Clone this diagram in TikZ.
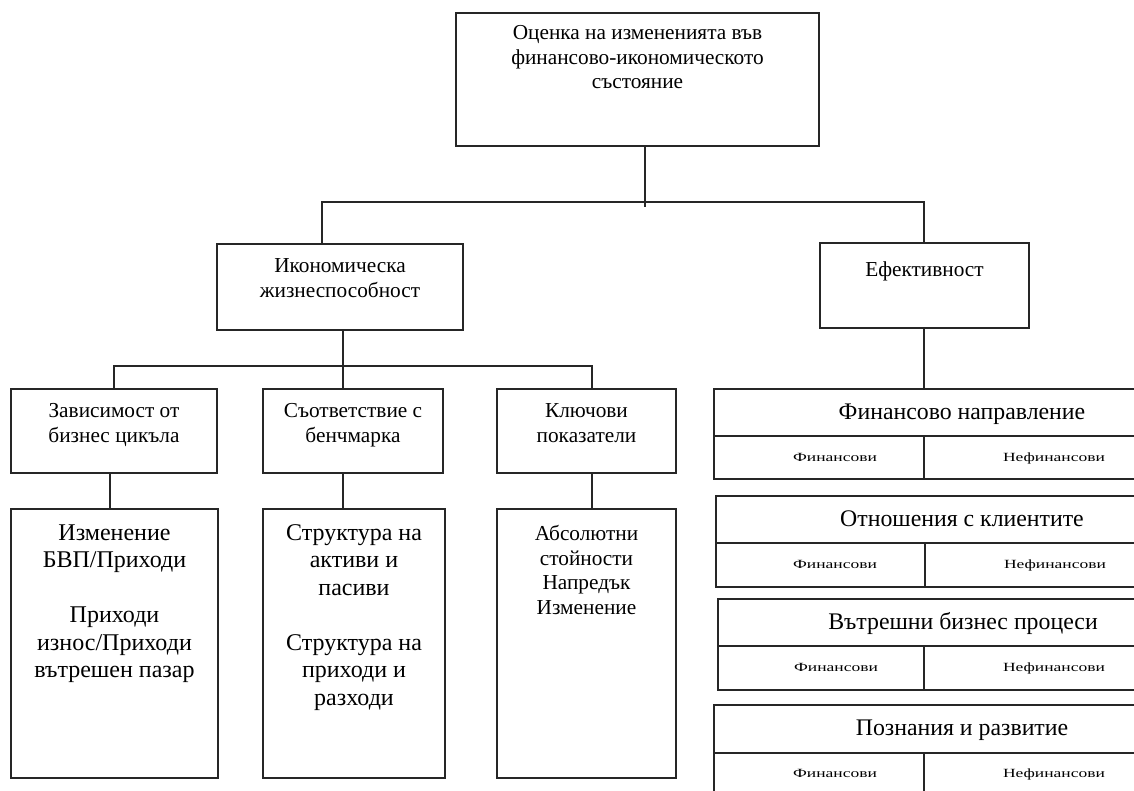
\documentclass[tikz,border=0pt]{standalone}
\usepackage{fontspec}
\setmainfont{Liberation Serif}
\newfontfamily\subfont[FakeStretch=1.4]{Liberation Serif}
\begin{document}
\begin{tikzpicture}[x=1pt,y=-1pt,
  box/.style={draw=black!85, line width=1.3pt, rectangle, inner sep=0pt, outer sep=0pt, anchor=north west},
  conn/.style={draw=black!85, line width=1.3pt},
  txtA/.style={inner sep=0pt, anchor=north, align=center, font=\fontsize{21.3}{24.5}\selectfont},
  txtB/.style={inner sep=0pt, anchor=north, align=center, font=\fontsize{24}{27.5}\selectfont},
  ttl/.style={inner sep=0pt, anchor=base, font=\fontsize{23.8}{27}\selectfont},
  sub/.style={inner sep=0pt, anchor=base, font=\subfont\fontsize{12.5}{14}\selectfont},
]
\useasboundingbox (0,0) rectangle (1134,790);
\clip (0,0) rectangle (1134,790);

% top
\node[box, minimum width=363pt, minimum height=133pt] (top) at (456,13) {};
\node[txtA] (toptxt) at (637.5,25.5) {Оценка на измененията във\\финансово-икономическото\\състояние};

% level 2
\node[box, minimum width=246pt, minimum height=86pt] (econ) at (217,244) {};
\node[txtA] (econtxt) at (340,258.5) {Икономическа\\жизнеспособност};
\node[box, minimum width=209pt, minimum height=85pt] (eff) at (820,243) {};
\node[txtA, anchor=base] (efftxt) at (924.5,276) {Ефективност};

% level 3
\node[box, minimum width=206pt, minimum height=84pt] (zav) at (11,389) {};
\node[txtA] (zavtxt) at (114,403.5) {Зависимост от\\бизнес цикъла};
\node[box, minimum width=180pt, minimum height=84pt] (sao) at (263,389) {};
\node[txtA] (saotxt) at (353,403.5) {Съответствие с\\бенчмарка};
\node[box, minimum width=179pt, minimum height=84pt] (klu) at (497,389) {};
\node[txtA] (klutxt) at (586.5,403.5) {Ключови\\показатели};

% level 4
\node[box, minimum width=207pt, minimum height=269pt] (sub1) at (11,509) {};
\node[txtB] (sub1txt) at (114.5,524.5) {Изменение\\БВП/Приходи\\[27.5pt]Приходи\\износ/Приходи\\вътрешен пазар};
\node[box, minimum width=182pt, minimum height=269pt] (sub2) at (263,509) {};
\node[txtB] (sub2txt) at (354,524) {Структура на\\активи и\\пасиви\\[27.5pt]Структура на\\приходи и\\разходи};
\node[box, minimum width=179pt, minimum height=269pt] (sub3) at (497,509) {};
\node[txtA] (sub3txt) at (586.5,525.5) {Абсолютни\\стойности\\Напредък\\Изменение};

% right panel boxes
\node[box, minimum width=496pt, minimum height=90pt] (b1) at (714,389) {};
\node[box, minimum width=496pt, minimum height=91pt] (b2) at (716,496) {};
\node[box, minimum width=496pt, minimum height=91pt] (b3) at (718,599) {};
\node[box, minimum width=496pt, minimum height=120pt] (b4) at (714,705) {};

\foreach \b/\d in {b1/47, b2/47, b3/47, b4/48}{
  \draw[conn] ([yshift=-\d pt]\b.north west) -- ([yshift=-\d pt]\b.north east);
}
\coordinate (v1) at (924,436);
\coordinate (v2) at (925,543);
\coordinate (v3) at (924,646);
\coordinate (v4) at (924,753);
\draw[conn] (v1) -- (b1.south -| v1);
\draw[conn, line width=2pt] (v2) -- (b2.south -| v2);
\draw[conn] (v3) -- (b3.south -| v3);
\draw[conn] (v4) -- (b4.south -| v4);

\node[ttl] (b1t) at (962,419) {Финансово направление};
\node[sub] (b1f) at (835,461) {Финансови};
\node[sub] (b1n) at (1054,461) {Нефинансови};
\node[ttl] (b2t) at (962,526) {Отношения с клиентите};
\node[sub] (b2f) at (835,568) {Финансови};
\node[sub] (b2n) at (1055,568) {Нефинансови};
\node[ttl] (b3t) at (963,629) {Вътрешни бизнес процеси};
\node[sub] (b3f) at (836,671) {Финансови};
\node[sub] (b3n) at (1054,671) {Нефинансови};
\node[ttl] (b4t) at (962,735) {Познания и развитие};
\node[sub] (b4f) at (835,777) {Финансови};
\node[sub] (b4n) at (1054,777) {Нефинансови};

% connectors
\coordinate (c1) at (645,207);
\coordinate (hL) at (322,202);
\coordinate (hR) at (924,202);
\draw[conn] (top.south -| c1) -- (c1);
\draw[conn] (econ.north -| hL) -- (hL) -- (hR) -- (eff.north -| hR);

\coordinate (m1) at (114,366);
\coordinate (m2) at (343,366);
\coordinate (m3) at (592,366);
\draw[conn] (zav.north -| m1) -- (m1) -- (m3) -- (klu.north -| m3);
\draw[conn] (econ.south -| m2) -- (sao.north -| m2);

\coordinate (s1) at (110,490);
\coordinate (s2) at (343,490);
\coordinate (s3) at (592,490);
\draw[conn] (zav.south -| s1) -- (sub1.north -| s1);
\draw[conn] (sao.south -| s2) -- (sub2.north -| s2);
\draw[conn] (klu.south -| s3) -- (sub3.north -| s3);

\coordinate (e1) at (924,330);
\draw[conn] (eff.south -| e1) -- (b1.north -| e1);
\end{tikzpicture}
\end{document}
